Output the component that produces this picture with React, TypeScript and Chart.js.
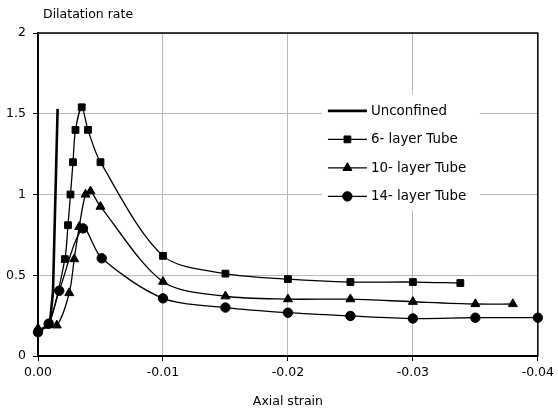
import React, { useEffect, useRef } from "react";
import { Chart, registerables } from "chart.js";

Chart.register(...registerables);

// ---- data ----
const seriesLabels = ["Unconfined", "6- layer Tube", "10- layer Tube", "14- layer Tube"];

const unconfinedX = [0, -0.00095, -0.0012, -0.00157];
const unconfinedY = [0.15, 0.2, 0.4, 1.53];

const tube6X = [0, -0.0009, -0.00215, -0.0024, -0.0026, -0.0028, -0.003, -0.0035, -0.004, -0.005, -0.01, -0.015, -0.02, -0.025, -0.03, -0.0338];
const tube6Y = [0.15, 0.2, 0.6, 0.81, 1.0, 1.2, 1.4, 1.54, 1.4, 1.2, 0.62, 0.51, 0.476, 0.458, 0.458, 0.452];

const tube10X = [0, -0.0015, -0.0025, -0.0029, -0.0033, -0.0038, -0.0042, -0.005, -0.01, -0.015, -0.02, -0.025, -0.03, -0.035, -0.038];
const tube10Y = [0.17, 0.19, 0.39, 0.6, 0.8, 1.0, 1.02, 0.925, 0.46, 0.37, 0.352, 0.352, 0.336, 0.322, 0.322];

const tube14X = [0, -0.00085, -0.0017, -0.0036, -0.0051, -0.01, -0.015, -0.02, -0.025, -0.03, -0.035, -0.04];
const tube14Y = [0.147, 0.2, 0.404, 0.79, 0.605, 0.357, 0.3, 0.268, 0.248, 0.232, 0.237, 0.237];

const xTicks = [0, -0.01, -0.02, -0.03, -0.04];
const yTicks = [0, 0.5, 1, 1.5, 2];

const xTitle = "Axial strain";
const yTitle = "Dilatation rate";

const FONT = "'DejaVu Sans', 'Liberation Sans', Arial, sans-serif";

function pts(xs: number[], ys: number[]) {
  return xs.map((x, i) => ({ x, y: ys[i] }));
}

function drawMarker(ctx: CanvasRenderingContext2D, style: string, x: number, y: number, r: number) {
  ctx.beginPath();
  if (style === "rect") {
    const s = Math.SQRT1_2 * r;
    ctx.rect(x - s, y - s, 2 * s, 2 * s);
  } else if (style === "triangle") {
    ctx.moveTo(x, y - r);
    ctx.lineTo(x + r * Math.sin((2 * Math.PI) / 3), y - r * Math.cos((2 * Math.PI) / 3));
    ctx.lineTo(x + r * Math.sin((4 * Math.PI) / 3), y - r * Math.cos((4 * Math.PI) / 3));
    ctx.closePath();
  } else {
    ctx.arc(x, y, r, 0, Math.PI * 2);
  }
  ctx.fill();
  ctx.stroke();
}

const framePlugin = {
  id: "frame",
  beforeDatasetsDraw(chart: any) {
    const { ctx, chartArea: a } = chart;
    ctx.save();
    ctx.strokeStyle = "#000";
    ctx.lineWidth = 1.5;
    ctx.strokeRect(a.left, a.top, a.right - a.left, a.bottom - a.top);
    ctx.restore();
  },
  afterDraw(chart: any) {
    const { ctx, chartArea: a } = chart;
    ctx.save();
    // y-axis title above the plot
    ctx.fillStyle = "#000";
    ctx.font = `12.5px ${FONT}`;
    ctx.textAlign = "left";
    ctx.textBaseline = "middle";
    ctx.fillText(yTitle, a.left + 5, a.top - 18);

    // legend inside the plot
    const w = a.right - a.left;
    const h = a.bottom - a.top;
    const bx = a.left + w * 0.568;
    const by = a.top + h * 0.19;
    ctx.fillStyle = "#fff";
    ctx.fillRect(bx, by, 158, 116);
    chart.data.datasets.forEach((ds: any, i: number) => {
      const y = by + 16.5 + i * 28.5;
      const x0 = bx + 6;
      const x1 = bx + 45;
      ctx.strokeStyle = "#000";
      ctx.lineWidth = ds.borderWidth;
      ctx.beginPath();
      ctx.moveTo(x0, y);
      ctx.lineTo(x1, y);
      ctx.stroke();
      if (ds.pointRadius > 0) {
        ctx.fillStyle = "#000";
        ctx.lineWidth = 1;
        drawMarker(ctx, ds.pointStyle, (x0 + x1) / 2, y, ds.pointRadius);
      }
      ctx.fillStyle = "#000";
      ctx.font = `13.4px ${FONT}`;
      ctx.textAlign = "left";
      ctx.textBaseline = "middle";
      ctx.fillText(ds.label, x1 + 4, y + 0.5);
    });
    ctx.restore();
  },
};

export default function App() {
  const ref = useRef<HTMLCanvasElement | null>(null);

  useEffect(() => {
    if (!ref.current) return;
    const common = {
      borderColor: "#000",
      pointBackgroundColor: "#000",
      pointBorderColor: "#000",
      pointBorderWidth: 1,
      fill: false,
      clip: false as any,
    };
    const chart = new Chart(ref.current, {
      type: "line",
      data: {
        datasets: [
          {
            ...common,
            label: seriesLabels[0],
            data: pts(unconfinedX, unconfinedY),
            borderWidth: 2.6,
            pointRadius: 0,
            pointStyle: "circle",
            tension: 0,
          },
          {
            ...common,
            label: seriesLabels[1],
            data: pts(tube6X, tube6Y),
            borderWidth: 1.3,
            pointRadius: 4.8,
            pointStyle: "rect",
            tension: 0.3,
          },
          {
            ...common,
            label: seriesLabels[2],
            data: pts(tube10X, tube10Y),
            borderWidth: 1.3,
            pointRadius: 5.2,
            pointStyle: "triangle",
            tension: 0.3,
          },
          {
            ...common,
            label: seriesLabels[3],
            data: pts(tube14X, tube14Y),
            borderWidth: 1.3,
            pointRadius: 4.7,
            pointStyle: "circle",
            tension: 0.3,
          },
        ] as any,
      },
      options: {
        animation: false,
        responsive: false,
        events: [],
        layout: { padding: { top: 33, right: 18, left: 0, bottom: 0 } },
        plugins: {
          legend: { display: false },
          tooltip: { enabled: false },
          title: { display: false },
        },
        scales: {
          x: {
            type: "linear",
            min: xTicks[xTicks.length - 1],
            max: xTicks[0],
            reverse: true,
            afterFit: (s: any) => {
              s.height = 56;
            },
            afterBuildTicks: (s: any) => {
              s.ticks = xTicks.map((v) => ({ value: v }));
            },
            ticks: {
              color: "#000",
              font: { family: FONT, size: 12.5 },
              padding: 4,
              maxRotation: 0,
              autoSkip: false,
              callback: (v: any) => (Number(v) === 0 ? "0.00" : Number(v).toFixed(2)),
            },
            grid: {
              color: "#b8b8b8",
              lineWidth: 1,
              tickColor: "#000",
              tickLength: 5,
            },
            border: { color: "#000", width: 2 },
            title: {
              display: true,
              text: xTitle,
              color: "#000",
              font: { family: FONT, size: 12.5 },
              padding: { top: 3, bottom: 3 },
            },
          },
          y: {
            type: "linear",
            min: yTicks[0],
            max: yTicks[yTicks.length - 1],
            afterFit: (s: any) => {
              s.width = 38;
            },
            afterBuildTicks: (s: any) => {
              s.ticks = yTicks.map((v) => ({ value: v }));
            },
            ticks: {
              color: "#000",
              font: { family: FONT, size: 12.5 },
              padding: 7,
              callback: (v: any) => String(v),
            },
            grid: {
              color: "#b8b8b8",
              lineWidth: 1,
              tickColor: "#000",
              tickLength: 5,
            },
            border: { color: "#000", width: 2 },
          },
        },
      } as any,
      plugins: [framePlugin as any],
    });
    return () => chart.destroy();
  }, []);

  return (
    <div style={{ position: "absolute", left: 0, top: 0, width: 558, height: 412, background: "#fff" }}>
      <canvas ref={ref} width={558} height={412} />
    </div>
  );
}
